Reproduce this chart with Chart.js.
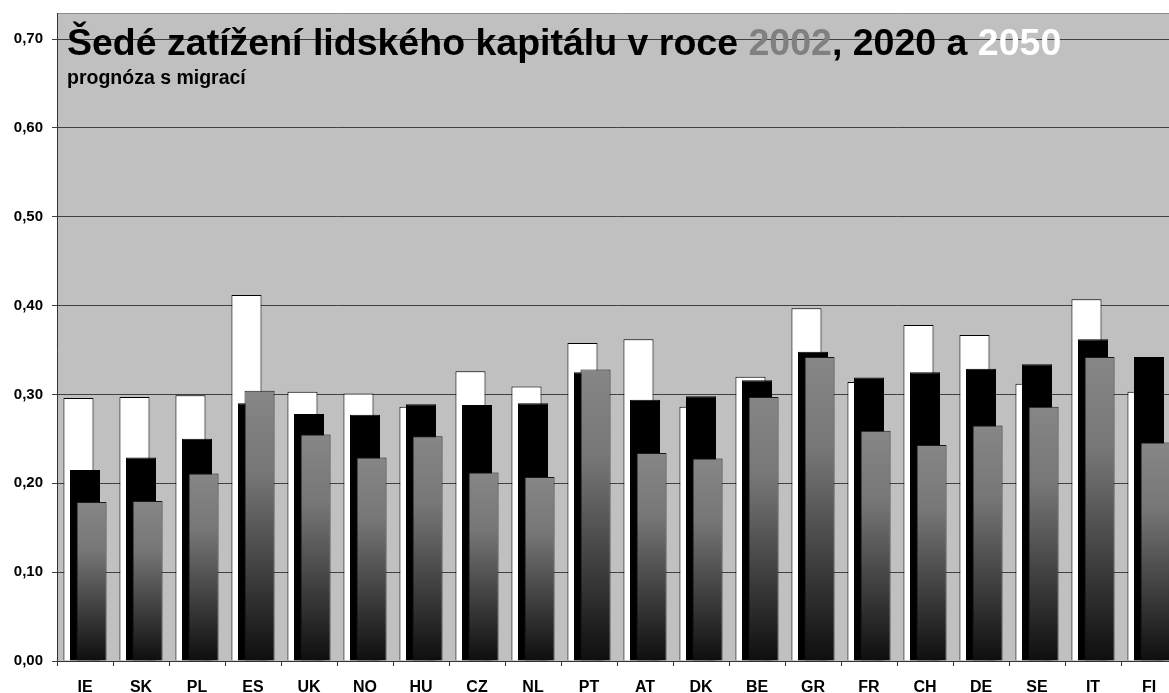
<!DOCTYPE html>
<html>
<head>
<meta charset="utf-8">
<script src="https://cdn.jsdelivr.net/npm/chart.js@4/dist/chart.umd.min.js"></script>
<style>
  html, body { margin: 0; padding: 0; background: #fff; overflow: hidden; }
  #wrap { width: 1180px; height: 693px; position: relative; }
</style>
</head>
<body>
<div id="wrap"><canvas id="chart"></canvas></div>
<script>
// countries
const countries = ["IE", "SK", "PL", "ES", "UK", "NO", "HU", "CZ", "NL", "PT",
                   "AT", "DK", "BE", "GR", "FR", "CH", "DE", "SE", "IT", "FI"];

// grey burden, by year
const values2050 = [0.296, 0.297, 0.299, 0.412, 0.303, 0.301, 0.286, 0.326, 0.309, 0.358,
                    0.362, 0.286, 0.320, 0.397, 0.314, 0.378, 0.367, 0.312, 0.407, 0.303];
const values2020 = [0.215, 0.229, 0.250, 0.290, 0.278, 0.277, 0.289, 0.288, 0.290, 0.325,
                    0.294, 0.298, 0.316, 0.348, 0.319, 0.325, 0.329, 0.334, 0.362, 0.342];
const values2002 = [0.179, 0.180, 0.211, 0.304, 0.255, 0.229, 0.253, 0.212, 0.207, 0.328,
                    0.234, 0.228, 0.297, 0.342, 0.259, 0.243, 0.265, 0.286, 0.342, 0.246];

const titleParts = [
  { text: "Šedé zatížení lidského kapitálu v roce ", color: "#000000" },
  { text: "2002", color: "#808080" },
  { text: ", 2020 a ", color: "#000000" },
  { text: "2050", color: "#ffffff" },
];
const subtitle = "prognóza s migrací";

const FONT = "'Liberation Sans', Arial, sans-serif";

// grey bars: gradient from grey at the top of each bar to near black at the base
const greyFill = (c) => {
  const chart = c.chart;
  if (!chart.chartArea || c.raw == null) return "#808080";
  const y = chart.scales.y;
  const top = y.getPixelForValue(c.raw);
  const bottom = y.getPixelForValue(0);
  const g = chart.ctx.createLinearGradient(0, top, 0, bottom);
  g.addColorStop(0, "#868686");
  g.addColorStop(0.3, "#777777");
  g.addColorStop(1, "#0e0e0e");
  return g;
};

// plot background, frame, title
const frame = {
  id: "frame",
  beforeDraw(chart) {
    const { ctx, chartArea, width } = chart;
    ctx.save();
    ctx.fillStyle = "#c0c0c0";
    ctx.fillRect(chartArea.left, 13, width - chartArea.left, chartArea.bottom - 13);
    ctx.strokeStyle = "#8c8c8c";
    ctx.lineWidth = 1;
    ctx.beginPath();
    ctx.moveTo(chartArea.left, 13.5);
    ctx.lineTo(width, 13.5);
    ctx.stroke();
    ctx.strokeStyle = "#333333";
    ctx.beginPath();
    ctx.moveTo(chartArea.left + 0.5, 13);
    ctx.lineTo(chartArea.left + 0.5, chartArea.top);
    ctx.stroke();
    ctx.restore();
  },
  afterDraw(chart) {
    const { ctx } = chart;
    ctx.save();
    ctx.textBaseline = "alphabetic";
    ctx.font = "bold 37.5px " + FONT;
    let x = 67;
    titleParts.forEach((p) => {
      ctx.fillStyle = p.color;
      ctx.fillText(p.text, x, 55);
      x += ctx.measureText(p.text).width;
    });
    ctx.font = "bold 19.5px " + FONT;
    ctx.fillStyle = "#000";
    ctx.fillText(subtitle, 67, 84);
    ctx.restore();
  },
};

// white bars at the back, grey bars in front
const drawOrder = {
  id: "drawOrder",
  beforeDatasetsDraw(chart) {
    const { ctx, chartArea } = chart;
    ctx.save();
    ctx.beginPath();
    ctx.rect(chartArea.left, 0, chartArea.width, chartArea.bottom);
    ctx.clip();
    chart.getSortedVisibleDatasetMetas().forEach((meta) => meta.controller.draw());
    ctx.restore();
    return false;
  },
};

const barCommon = {
  categoryPercentage: 0.35,
  barPercentage: 4.6,
  borderWidth: 1,
  borderSkipped: "bottom",
};

new Chart(document.getElementById("chart"), {
  type: "bar",
  data: {
    labels: countries,
    datasets: [
      { label: "2050", data: values2050, backgroundColor: "#ffffff", borderColor: "#000000", ...barCommon },
      { label: "2020", data: values2020, backgroundColor: "#000000", borderColor: "#000000", ...barCommon },
      { label: "2002", data: values2002, backgroundColor: greyFill, borderColor: "#1a1a1a", ...barCommon },
    ],
  },
  options: {
    responsive: true,
    maintainAspectRatio: false,
    animation: false,
    layout: { padding: { top: 39, right: 3, left: 0, bottom: 0 } },
    plugins: {
      legend: { display: false },
      title: { display: false },
      tooltip: { enabled: false },
    },
    scales: {
      x: {
        grid: { offset: true, drawOnChartArea: false, tickLength: 5, color: "#333333" },
        border: { color: "#333333" },
        ticks: { color: "#000", font: { family: FONT, size: 16, weight: "bold" }, padding: 12, maxRotation: 0 },
        afterFit(scale) { scale.height = 32; },
      },
      y: {
        min: 0,
        max: 0.7,
        grid: { color: "#404040", tickLength: 5 },
        border: { color: "#333333" },
        ticks: {
          stepSize: 0.1,
          color: "#000",
          padding: 9,
          font: { family: FONT, size: 15, weight: "bold" },
          callback: (v) => v.toFixed(2).replace(".", ","),
        },
        afterFit(scale) { scale.width = 57; },
      },
    },
  },
  plugins: [frame, drawOrder],
});
</script>
</body>
</html>
